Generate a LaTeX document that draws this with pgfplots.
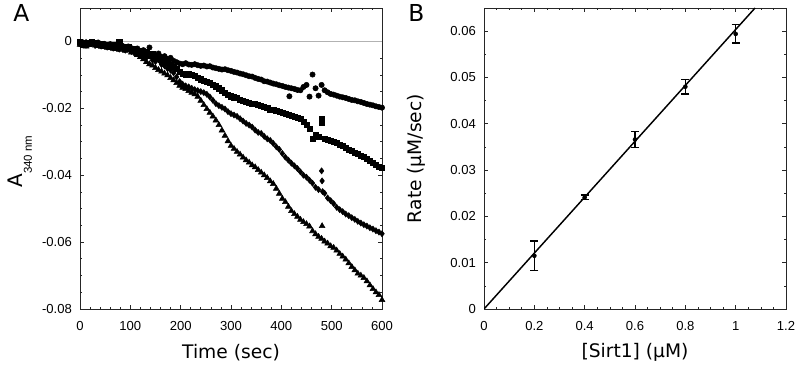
\documentclass[border=0pt]{standalone}
\usepackage{fontspec}
\setmainfont{DejaVu Sans}
\newfontfamily\tickfont{Liberation Sans}
\usepackage{pgfplots}
\pgfplotsset{compat=1.18}
\pgfplotsset{
  myaxis/.style={
    scale only axis, width=226.5pt, height=225.75pt,
    axis line style={line width=0.6pt, black!85},
    tick style={black!85, line width=0.5pt},
    major tick length=3pt, minor tick length=1.7pt,
    tick align=inside,
    tick label style={font=\tickfont\fontsize{9.8}{11}\selectfont},
    /pgf/number format/assume math mode=true,
    scaled ticks=false,
    xticklabel style={yshift=-5.8pt},
    yticklabel style={xshift=-2.6pt},
  }
}
\begin{document}
\begin{tikzpicture}
\useasboundingbox (-60pt,-43.5pt) rectangle (540pt,231.75pt);
\begin{axis}[myaxis,
  xmin=0, xmax=600, ymin=-0.08, ymax=0.01,
  xtick={0,100,200,300,400,500,600}, xticklabels={0,100,200,300,400,500,600}, minor x tick num=4,
  ytick={-0.08,-0.06,-0.04,-0.02,0}, yticklabels={-0.08,-0.06,-0.04,-0.02,0}, minor y tick num=3,
  xlabel={Time (sec)},
  ylabel={A\raisebox{-7.2pt}{\tickfont\fontsize{8.6}{10}\selectfont 340 nm}},
  every axis x label/.style={at={(axis description cs:0.5,-0.145)},anchor=center,font=\fontsize{14}{17}\selectfont},
  every axis y label/.style={at={(axis description cs:-0.199,0.49)},rotate=90,anchor=center,font=\fontsize{15}{17}\selectfont},
]
\addplot[gray!60, line width=0.75pt] coordinates {(0,0) (600,0)};
% circles
\addplot[only marks, mark=*, mark size=2.0pt, black] coordinates {
(0,-0.0008)(6,-0.0003)(12,-0.0012)(18,-0.0005)(24,-0.0002)(30,-0.0006)(36,-0.0003)(42,-0.0009)(48,-0.0007)(54,-0.0011)
(60,-0.0008)(66,-0.0014)(72,-0.0010)(78,-0.0016)(84,-0.0013)(90,-0.0019)(96,-0.0015)(102,-0.0020)(108,-0.0024)(114,-0.0021)
(120,-0.0030)(126,-0.0026)(132,-0.0034)(138,-0.0018)(144,-0.0038)(150,-0.0042)(156,-0.0036)(162,-0.0048)(168,-0.0044)(174,-0.0053)
(180,-0.0049)(186,-0.0058)(192,-0.0062)(198,-0.0066)(204,-0.0068)(210,-0.0065)(216,-0.0069)(222,-0.0070)(228,-0.0068)(234,-0.0071)
(240,-0.0073)(246,-0.0072)(252,-0.0075)(258,-0.0074)(264,-0.0078)(270,-0.0080)(276,-0.0082)(282,-0.0084)(288,-0.0083)(294,-0.0086)
(300,-0.0088)(306,-0.0091)(312,-0.0093)(318,-0.0096)(324,-0.0098)(330,-0.0101)(336,-0.0104)(342,-0.0105)(348,-0.0109)(354,-0.0112)
(360,-0.0114)(366,-0.0119)(372,-0.0120)(378,-0.0123)(384,-0.0126)(390,-0.0128)(396,-0.0131)(402,-0.0133)(408,-0.0136)(414,-0.0138)
(416,-0.0164)(420,-0.0140)(426,-0.0142)(432,-0.0145)(438,-0.0146)(444,-0.0136)(450,-0.0130)(456,-0.0165)(462,-0.0099)(468,-0.0140)
(474,-0.0162)(480,-0.0130)(486,-0.0146)(492,-0.0152)(498,-0.0157)(504,-0.0159)(510,-0.0162)(516,-0.0165)(522,-0.0167)(528,-0.0169)
(534,-0.0172)(540,-0.0175)(546,-0.0176)(552,-0.0179)(558,-0.0181)(564,-0.0184)(570,-0.0187)(576,-0.0189)(582,-0.0191)(588,-0.0194)
(594,-0.0196)(600,-0.0198)
};
% squares
\addplot[only marks, mark=square*, mark size=1.9pt, black] coordinates {
(0,-0.0002)(6,-0.0009)(12,-0.0004)(18,-0.0007)(24,-0.0001)(30,-0.0005)(36,-0.0010)(42,-0.0006)(48,-0.0013)(54,-0.0009)
(60,-0.0015)(66,-0.0011)(72,-0.0018)(78,0.0000)(84,-0.0016)(90,-0.0021)(96,-0.0017)(102,-0.0025)(108,-0.0022)(114,-0.0031)
(120,-0.0027)(126,-0.0036)(132,-0.0032)(138,-0.0043)(144,-0.0038)(150,-0.0050)(156,-0.0045)(162,-0.0058)(168,-0.0052)(174,-0.0064)
(180,-0.0069)(186,-0.0075)(192,-0.0083)(198,-0.0092)(204,-0.0096)(210,-0.0099)(216,-0.0097)(222,-0.0101)(228,-0.0104)(234,-0.0108)
(240,-0.0113)(246,-0.0117)(252,-0.0121)(258,-0.0123)(264,-0.0129)(270,-0.0134)(276,-0.0140)(282,-0.0146)(288,-0.0153)(294,-0.0159)
(300,-0.0164)(306,-0.0167)(312,-0.0169)(318,-0.0174)(324,-0.0176)(330,-0.0180)(336,-0.0182)(342,-0.0185)(348,-0.0187)(354,-0.0190)
(360,-0.0193)(366,-0.0196)(372,-0.0199)(378,-0.0203)(384,-0.0205)(390,-0.0208)(396,-0.0210)(402,-0.0213)(408,-0.0216)(414,-0.0220)
(420,-0.0223)(426,-0.0226)(432,-0.0227)(438,-0.0231)(444,-0.0239)(450,-0.0250)(456,-0.0260)(462,-0.0290)(468,-0.0278)(474,-0.0286)
(480,-0.0243)(481,-0.0230)(486,-0.0292)(492,-0.0295)(498,-0.0297)(504,-0.0300)(510,-0.0303)(516,-0.0308)(522,-0.0313)(528,-0.0319)
(534,-0.0323)(540,-0.0328)(546,-0.0332)(552,-0.0337)(558,-0.0341)(564,-0.0346)(570,-0.0352)(576,-0.0357)(582,-0.0363)(588,-0.0369)
(594,-0.0374)(600,-0.0379)
};
% diamonds
\addplot[only marks, mark=diamond*, mark size=2.3pt, black] coordinates {
(0,-0.0005)(6,-0.0010)(12,-0.0003)(18,-0.0008)(24,-0.0004)(30,-0.0012)(36,-0.0007)(42,-0.0014)(48,-0.0010)(54,-0.0017)
(60,-0.0013)(66,-0.0020)(72,-0.0016)(78,-0.0023)(84,-0.0019)(90,-0.0026)(96,-0.0022)(102,-0.0030)(108,-0.0035)(114,-0.0028)
(120,-0.0041)(126,-0.0036)(132,-0.0048)(138,-0.0043)(144,-0.0056)(150,-0.0060)(156,-0.0055)(162,-0.0069)(168,-0.0073)(174,-0.0081)
(180,-0.0086)(186,-0.0094)(192,-0.0106)(198,-0.0120)(204,-0.0128)(210,-0.0133)(216,-0.0136)(222,-0.0140)(228,-0.0144)(234,-0.0147)
(240,-0.0150)(246,-0.0153)(252,-0.0158)(258,-0.0166)(264,-0.0176)(270,-0.0186)(276,-0.0192)(282,-0.0197)(288,-0.0202)(294,-0.0210)
(300,-0.0216)(306,-0.0220)(312,-0.0224)(318,-0.0231)(324,-0.0238)(330,-0.0245)(336,-0.0250)(342,-0.0256)(348,-0.0265)(354,-0.0272)
(360,-0.0275)(366,-0.0284)(372,-0.0291)(378,-0.0296)(384,-0.0305)(390,-0.0315)(396,-0.0323)(402,-0.0335)(408,-0.0346)(414,-0.0355)
(420,-0.0364)(426,-0.0372)(432,-0.0380)(438,-0.0390)(444,-0.0400)(450,-0.0406)(456,-0.0415)(462,-0.0424)(468,-0.0436)(474,-0.0443)
(480,-0.0387)(481,-0.0417)(482,-0.0449)(486,-0.0454)(492,-0.0468)(498,-0.0476)(504,-0.0485)(510,-0.0496)(516,-0.0503)(522,-0.0509)
(528,-0.0516)(534,-0.0521)(540,-0.0527)(546,-0.0532)(552,-0.0538)(558,-0.0543)(564,-0.0548)(570,-0.0552)(576,-0.0557)(582,-0.0561)
(588,-0.0566)(594,-0.0570)(600,-0.0575)
};
% triangles
\addplot[only marks, mark=triangle*, mark size=2.5pt, black] coordinates {
(0,-0.0010)(6,-0.0006)(12,-0.0015)(18,-0.0009)(24,-0.0005)(30,-0.0012)(36,-0.0008)(42,-0.0016)(48,-0.0011)(54,-0.0019)
(60,-0.0014)(66,-0.0022)(72,-0.0017)(78,-0.0025)(84,-0.0020)(90,-0.0028)(96,-0.0024)(102,-0.0033)(108,-0.0029)(114,-0.0040)
(120,-0.0046)(126,-0.0053)(132,-0.0061)(138,-0.0068)(144,-0.0072)(150,-0.0079)(156,-0.0085)(162,-0.0090)(168,-0.0096)(174,-0.0101)
(180,-0.0109)(186,-0.0116)(192,-0.0124)(198,-0.0132)(204,-0.0138)(210,-0.0142)(216,-0.0148)(222,-0.0153)(228,-0.0158)(234,-0.0165)
(240,-0.0177)(246,-0.0190)(252,-0.0202)(258,-0.0213)(264,-0.0224)(270,-0.0236)(276,-0.0250)(282,-0.0266)(288,-0.0282)(294,-0.0298)
(300,-0.0312)(306,-0.0321)(312,-0.0330)(318,-0.0338)(324,-0.0347)(330,-0.0355)(336,-0.0362)(342,-0.0370)(348,-0.0376)(354,-0.0384)
(360,-0.0392)(366,-0.0400)(372,-0.0408)(378,-0.0418)(384,-0.0426)(390,-0.0440)(396,-0.0455)(402,-0.0470)(408,-0.0480)(414,-0.0494)
(420,-0.0507)(426,-0.0516)(432,-0.0524)(438,-0.0533)(444,-0.0540)(450,-0.0546)(456,-0.0553)(462,-0.0567)(468,-0.0576)(474,-0.0584)
(480,-0.0590)(481,-0.0552)(486,-0.0598)(492,-0.0604)(498,-0.0612)(504,-0.0617)(510,-0.0625)(516,-0.0635)(522,-0.0643)(528,-0.0652)
(534,-0.0663)(540,-0.0674)(546,-0.0684)(552,-0.0694)(558,-0.0700)(564,-0.0707)(570,-0.0717)(576,-0.0729)(582,-0.0740)(588,-0.0750)
(594,-0.0758)(600,-0.0773)
};
\end{axis}
\begin{axis}[myaxis, at={(303pt,0pt)},
  xmin=0, xmax=1.2, ymin=0, ymax=0.065,
  xtick={0,0.2,0.4,0.6,0.8,1,1.2}, xticklabels={0,0.2,0.4,0.6,0.8,1,1.2}, minor x tick num=3,
  ytick={0,0.01,0.02,0.03,0.04,0.05,0.06}, yticklabels={0,0.01,0.02,0.03,0.04,0.05,0.06}, minor y tick num=1,
  xlabel={[Sirt1] (µM)},
  ylabel={Rate (µM/sec)},
  every axis x label/.style={at={(axis description cs:0.5,-0.145)},anchor=center,font=\fontsize{14}{17}\selectfont},
  every axis y label/.style={at={(axis description cs:-0.225,0.5)},rotate=90,anchor=center,font=\fontsize{14}{17}\selectfont},
]
\addplot[black, line width=1.1pt] coordinates {(0,0) (1.077,0.065)};
\addplot[only marks, mark=*, mark size=1.5pt, black,
  error bars/.cd, y dir=both, y explicit,
  error bar style={line width=1.1pt, black},
  error mark options={rotate=90, mark size=3pt, line width=1.1pt, black}]
  coordinates {
  (0.2,0.0115) +- (0,0.0032)
  (0.4,0.0241) +- (0,0.0005)
  (0.6,0.0366) +- (0,0.0017)
  (0.8,0.0480) +- (0,0.0016)
  (1.0,0.0594) +- (0,0.0020)
};
\end{axis}
\node[anchor=base west, inner sep=0pt, font=\fontsize{17.5}{20}\selectfont] at (-50.25pt,215.25pt) {A};
\node[anchor=base west, inner sep=0pt, font=\fontsize{17.5}{20}\selectfont] at (246pt,215.25pt) {B};
\end{tikzpicture}
\end{document}
